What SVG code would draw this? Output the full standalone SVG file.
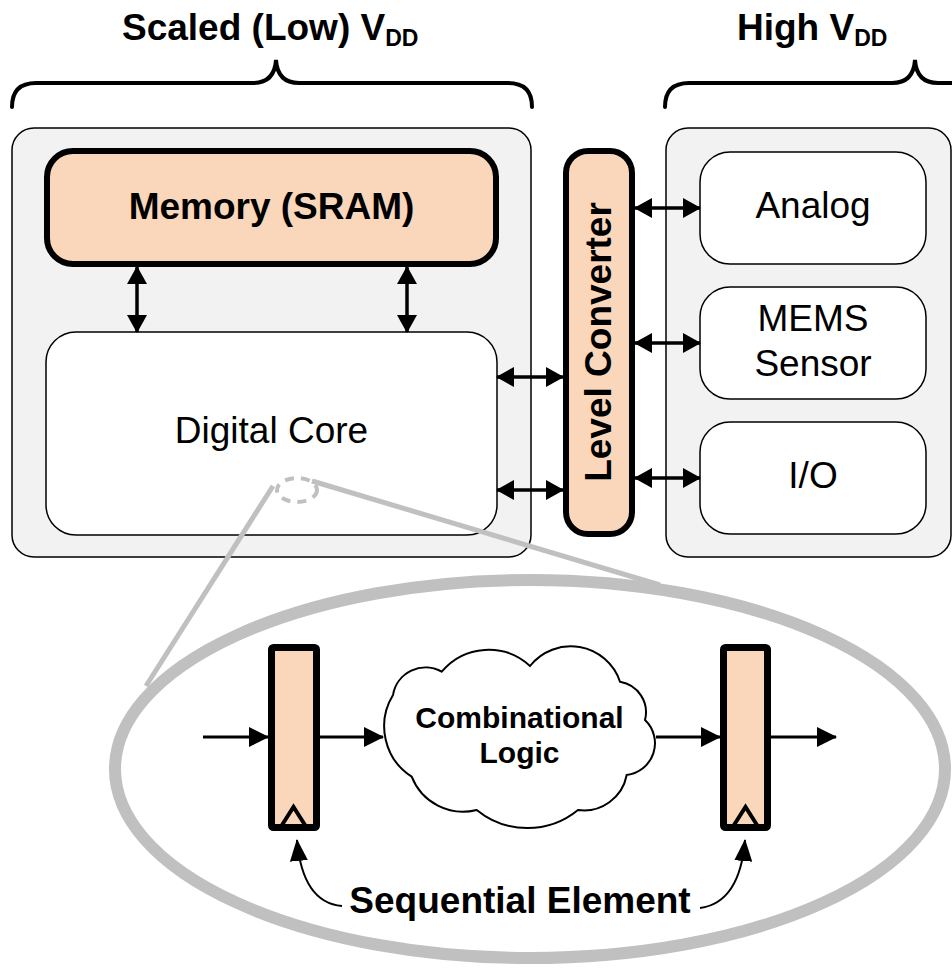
<svg xmlns="http://www.w3.org/2000/svg" width="952" height="968" viewBox="0 0 952 968">
<style>
text{font-family:"Liberation Sans",Arial,sans-serif;fill:#000}
.b{font-weight:bold}
.t37{font-size:37px}
.domain{fill:#f2f2f2;stroke:#000;stroke-width:1.5}
.blk{fill:#fff;stroke:#000;stroke-width:1.5}
.hot{fill:#fad7ba;stroke:#000;stroke-width:6}
.ff{fill:#fad7ba;stroke:#000;stroke-width:7}
.brace{fill:none;stroke:#000;stroke-width:4;stroke-linecap:round}
.bi{fill:none;stroke:#000;stroke-width:3.5;marker-start:url(#ah);marker-end:url(#ah)}
.uni{fill:none;stroke:#000;stroke-width:3;marker-end:url(#ah2)}
.thin{fill:none;stroke:#000;stroke-width:2;marker-end:url(#ah3)}
.gray{fill:none;stroke:#c0c0c0}
</style>
<defs>
<marker id="ah" viewBox="0 0 18 20" refX="17" refY="10" markerWidth="18" markerHeight="20" markerUnits="userSpaceOnUse" orient="auto-start-reverse"><path d="M0,0 L18,10 L0,20 Z" fill="#000"/></marker>
<marker id="ah2" viewBox="0 0 20 20" refX="19" refY="10" markerWidth="20" markerHeight="20" markerUnits="userSpaceOnUse" orient="auto"><path d="M0,0 L20,10 L0,20 Z" fill="#000"/></marker>
<marker id="ah3" viewBox="0 0 22 18" refX="21" refY="9" markerWidth="22" markerHeight="18" markerUnits="userSpaceOnUse" orient="auto"><path d="M0,0 L22,9 L0,18 Z" fill="#000"/></marker>
</defs>

<g id="title-low">
<text class="b t37" x="122" y="40">Scaled (Low) V<tspan font-size="23" dy="6">DD</tspan></text>
<path class="brace" d="M12,107 Q12,83 36,83 L253,83 C268,83 275,75 276,60 C277,75 284,83 299,83 L508,83 Q532,83 532,107"/>
</g>
<g id="title-high">
<text class="b t37" x="737" y="40">High V<tspan font-size="23" dy="6">DD</tspan></text>
<path class="brace" d="M665,107 Q665,83 689,83 L892,83 C907,83 914,75 915,60 C916,75 923,83 938,83 L1142,83 Q1166,83 1166,107"/>
</g>

<g id="low-domain"><rect class="domain" x="12" y="128" width="519" height="429" rx="22"/></g>
<g id="high-domain"><rect class="domain" x="666" y="128" width="285" height="429" rx="22"/></g>

<g id="memory">
<rect class="hot" x="47" y="151" width="449" height="113" rx="26"/>
<text class="b t37" x="271.5" y="219" text-anchor="middle">Memory (SRAM)</text>
</g>
<g id="digital-core">
<rect class="blk" x="46" y="332" width="451" height="203" rx="30"/>
<text class="t37" x="271.5" y="443" text-anchor="middle">Digital Core</text>
</g>
<g id="level-converter">
<rect class="hot" x="566" y="151" width="66" height="383" rx="22"/>
<text class="b t37" transform="translate(611,342) rotate(-90)" text-anchor="middle">Level Converter</text>
</g>
<g id="analog">
<rect class="blk" x="700" y="152" width="226" height="112" rx="30"/>
<text class="t37" x="813" y="218" text-anchor="middle">Analog</text>
</g>
<g id="mems">
<rect class="blk" x="700" y="287" width="226" height="112" rx="30"/>
<text class="t37" x="813" y="331" text-anchor="middle">MEMS</text>
<text class="t37" x="813" y="376" text-anchor="middle">Sensor</text>
</g>
<g id="io">
<rect class="blk" x="700" y="422" width="226" height="112" rx="30"/>
<text class="t37" x="813" y="488" text-anchor="middle">I/O</text>
</g>

<g id="zoom">
<ellipse cx="297" cy="490" rx="20" ry="12" fill="none" stroke="#c0c0c0" stroke-width="4" stroke-dasharray="9 7"/>
<path class="gray" stroke-width="5" d="M273,486 L146,686"/>
<path class="gray" stroke-width="5" d="M312,481 L660,585"/>
<ellipse class="gray" cx="530" cy="769" rx="415" ry="189" stroke-width="12"/>
</g>

<g id="ff1">
<rect class="ff" x="271.5" y="647.5" width="45" height="180" rx="2"/>
<polyline points="282,825 293.5,807 305,825" fill="none" stroke="#000" stroke-width="4"/>
</g>
<g id="ff2">
<rect class="ff" x="723.5" y="647.5" width="44" height="180" rx="2"/>
<polyline points="734,825 745.5,807 757,825" fill="none" stroke="#000" stroke-width="4"/>
</g>
<g id="cloud">
<path fill="#fff" stroke="#000" stroke-width="2" d="M393,695 A33,33 0 0 1 441.7,671.7 A61,61 0 0 1 530,666 A52,52 0 0 1 620,681.7 A31,31 0 0 1 645,720 A32,32 0 0 1 626.7,775 A43.5,43.5 0 0 1 578,810 A80,80 0 0 1 476.7,810 A55,55 0 0 1 411.7,776.7 A60,60 0 0 1 393,695 Z"/>
<text class="b" font-size="30" x="519.5" y="728" text-anchor="middle">Combinational</text>
<text class="b" font-size="30" x="519.5" y="763" text-anchor="middle">Logic</text>
</g>
<g id="seq-label">
<text class="b t37" x="520" y="913" text-anchor="middle">Sequential Element</text>
</g>

<g id="connectors">
<path class="bi" d="M137,267 L137,332"/>
<path class="bi" d="M407,267 L407,332"/>
<path class="bi" d="M497,377 L563,377"/>
<path class="bi" d="M497,490 L563,490"/>
<path class="bi" d="M635,208 L700,208"/>
<path class="bi" d="M635,343 L700,343"/>
<path class="bi" d="M635,478 L700,478"/>
<path class="uni" d="M203,737 L268,737"/>
<path class="uni" d="M320,737 L383,737"/>
<path class="uni" d="M656,737 L720,737"/>
<path class="uni" d="M771,737 L836,737"/>
<path class="thin" d="M342,906 C318,904 301,885 297,840"/>
<path class="thin" d="M700,908 C722,905 741,888 745,840"/>
</g>
</svg>
